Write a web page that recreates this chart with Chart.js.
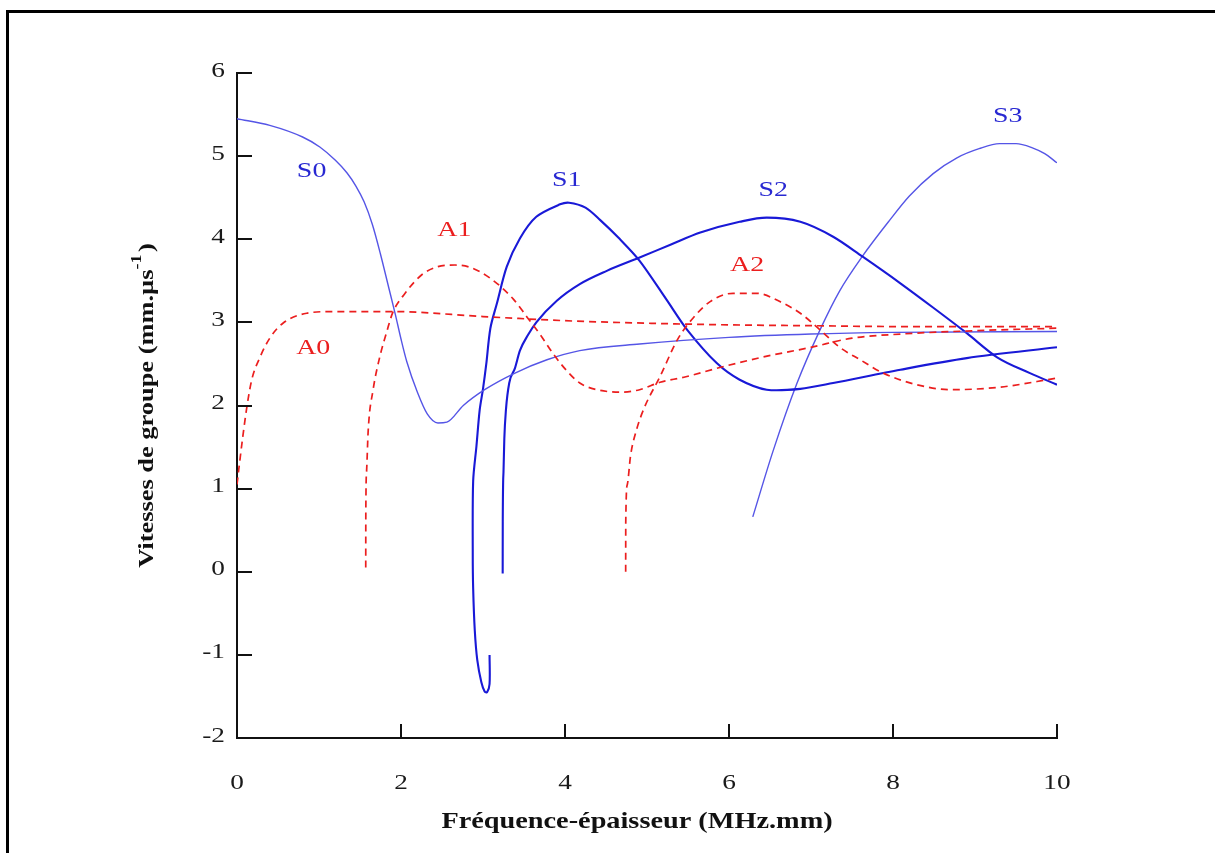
<!DOCTYPE html>
<html lang="fr">
<head>
<meta charset="UTF-8">
<title>Vitesses de groupe</title>
<script src="https://cdn.jsdelivr.net/npm/chart.js"></script>
<style>
  html, body { margin: 0; padding: 0; background: #fff; }
  #wrap { width: 1215px; height: 853px; position: relative; }
</style>
</head>
<body>
<div id="wrap"><canvas id="groupChart" width="1215" height="853"></canvas></div>
<script>
// fréquence-épaisseur (MHz.mm) -> vitesse de groupe (mm/µs)
const a0X = [0, 0.03, 0.07, 0.12, 0.18, 0.28, 0.4, 0.56, 0.85, 1.17, 1.9, 3, 4, 5, 6, 7, 8, 9, 10];
const a0Y = [1.05, 1.3, 1.62, 1.98, 2.31, 2.58, 2.81, 2.99, 3.11, 3.13, 3.13, 3.07, 3.02, 2.99, 2.97, 2.96, 2.95, 2.95, 2.95];

const a1X = [1.57, 1.571, 1.58, 1.6, 1.66, 1.74, 1.83, 1.9, 2.05, 2.25, 2.45, 2.66, 2.85, 3.09, 3.37, 3.54, 3.7, 3.85, 4.02, 4.18, 4.39, 4.67, 4.91, 5.16, 5.45, 5.9, 6.4, 7.0, 7.5, 8.1, 9.0, 10];
const a1Y = [0.05, 0.7, 1.2, 1.7, 2.19, 2.58, 2.9, 3.12, 3.35, 3.57, 3.67, 3.69, 3.66, 3.53, 3.28, 3.06, 2.85, 2.63, 2.42, 2.27, 2.19, 2.16, 2.19, 2.28, 2.34, 2.46, 2.58, 2.7, 2.81, 2.86, 2.9, 2.93];

const a2X = [4.74, 4.741, 4.76, 4.8, 4.87, 4.97, 5.16, 5.37, 5.56, 5.77, 6.05, 6.34, 6.62, 6.87, 7.11, 7.35, 7.6, 7.88, 8.29, 8.7, 9.3, 10];
const a2Y = [0.0, 0.6, 1.05, 1.4, 1.7, 1.98, 2.35, 2.79, 3.05, 3.25, 3.35, 3.35, 3.25, 3.11, 2.91, 2.7, 2.55, 2.39, 2.25, 2.19, 2.22, 2.33];

const s0X = [0, 0.4, 0.8, 1.01, 1.2, 1.34, 1.45, 1.55, 1.65, 1.75, 1.85, 1.93, 2.0, 2.07, 2.2, 2.32, 2.45, 2.56, 2.76, 3.02, 3.39, 3.78, 4.18, 4.91, 6, 7, 8, 10];
const s0Y = [5.45, 5.37, 5.23, 5.11, 4.95, 4.8, 4.64, 4.45, 4.18, 3.82, 3.42, 3.1, 2.8, 2.53, 2.16, 1.9, 1.79, 1.8, 2.0, 2.19, 2.39, 2.55, 2.66, 2.74, 2.82, 2.86, 2.88, 2.89];

const s1X = [3.08, 3.08, 3.05, 3.02, 2.98, 2.93, 2.9, 2.88, 2.875, 2.88, 2.92, 2.96, 3.0, 3.04, 3.09, 3.17, 3.29, 3.45, 3.65, 3.94, 4.05, 4.25, 4.43, 4.65, 4.91, 5.24, 5.49, 5.85, 6.13, 6.46, 6.87, 7.27, 8.09, 8.9, 10];
const s1Y = [-1.0, -1.35, -1.45, -1.44, -1.33, -1.06, -0.71, -0.2, 0.23, 1.09, 1.51, 1.95, 2.2, 2.5, 2.93, 3.23, 3.67, 4.01, 4.27, 4.42, 4.44, 4.38, 4.23, 4.02, 3.74, 3.27, 2.91, 2.51, 2.31, 2.19, 2.2, 2.27, 2.43, 2.57, 2.7];

const s2X = [3.24, 3.241, 3.25, 3.26, 3.28, 3.32, 3.39, 3.45, 3.55, 3.65, 3.9, 4.18, 4.51, 4.91, 5.3, 5.65, 6.13, 6.46, 6.87, 7.27, 7.63, 8.09, 8.5, 8.9, 9.27, 9.67, 10];
const s2Y = [-0.02, 0.6, 1.2, 1.6, 1.95, 2.27, 2.45, 2.66, 2.85, 3.0, 3.26, 3.46, 3.62, 3.78, 3.94, 4.08, 4.21, 4.26, 4.21, 4.03, 3.79, 3.47, 3.17, 2.87, 2.58, 2.39, 2.25];

const s3X = [6.29, 6.54, 6.83, 7.11, 7.35, 7.63, 7.96, 8.2, 8.49, 8.78, 9.05, 9.3, 9.5, 9.7, 9.85, 10];
const s3Y = [0.66, 1.46, 2.27, 2.91, 3.38, 3.8, 4.23, 4.52, 4.79, 4.98, 5.09, 5.15, 5.15, 5.1, 5.03, 4.92];

const xTicks = [0, 2, 4, 6, 8, 10];
const yTicks = [-2, -1, 0, 1, 2, 3, 4, 5, 6];

const curveNames = ['S0', 'A1', 'S1', 'S2', 'A2', 'S3', 'A0'];
const curveNameX = [0.91, 2.65, 4.02, 6.54, 6.22, 9.4, 0.93];
const curveNameY = [4.81, 4.11, 4.71, 4.59, 3.68, 5.48, 2.69];

const BLUE = 'rgb(25,25,215)';
const BLUE_THIN = 'rgb(85,85,230)';
const RED = 'rgb(235,30,30)';
const SERIF = '"Liberation Serif", "DejaVu Serif", serif';
const STRETCH = 1.33; // the figure's lettering is wide

function pts(xs, ys) {
  return xs.map((x, i) => ({ x: x, y: ys[i] }));
}

function redMode(xs, ys) {
  return { data: pts(xs, ys), borderColor: RED, borderWidth: 1.7, borderDash: [7, 5], cubicInterpolationMode: 'monotone' };
}
function blueMode(xs, ys, thin, smooth) {
  return {
    data: pts(xs, ys),
    borderColor: thin ? BLUE_THIN : BLUE,
    borderWidth: thin ? 1.4 : 2.1,
    cubicInterpolationMode: smooth ? 'monotone' : 'default'
  };
}

// wide text, centred on (x, y)
function wideText(ctx, txt, x, y, sx, align) {
  ctx.save();
  ctx.translate(x, y);
  ctx.scale(sx, 1);
  ctx.textAlign = align || 'center';
  ctx.fillText(txt, 0, 0);
  ctx.restore();
}

// frame, inward ticks, tick labels, axis titles and mode names
const decorations = {
  id: 'decorations',
  beforeDraw(chart) {
    const ctx = chart.ctx;
    ctx.save();
    ctx.fillStyle = '#fff';
    ctx.fillRect(0, 0, chart.width, chart.height);
    ctx.strokeStyle = '#000';
    ctx.lineWidth = 3;
    ctx.beginPath();
    ctx.moveTo(7.5, 853);
    ctx.lineTo(7.5, 11.5);
    ctx.lineTo(1215, 11.5);
    ctx.stroke();
    ctx.restore();
  },
  afterDatasetsDraw(chart) {
    const ctx = chart.ctx;
    const xs = chart.scales.x, ys = chart.scales.y;
    const area = chart.chartArea;
    ctx.save();
    ctx.strokeStyle = '#111';
    ctx.lineWidth = 2;
    ctx.beginPath();
    xTicks.forEach(v => {
      const px = Math.round(xs.getPixelForValue(v));
      ctx.moveTo(px, area.bottom);
      ctx.lineTo(px, area.bottom - 14);
    });
    yTicks.forEach(v => {
      const py = Math.round(ys.getPixelForValue(v));
      ctx.moveTo(area.left, py);
      ctx.lineTo(area.left + 15, py);
    });
    ctx.stroke();

    // tick labels
    ctx.fillStyle = '#1a1a1a';
    ctx.font = '21px ' + SERIF;
    ctx.textBaseline = 'middle';
    xTicks.forEach(v => wideText(ctx, String(v), xs.getPixelForValue(v), 783, 1.3));
    yTicks.forEach(v => wideText(ctx, String(v), area.left - 12, ys.getPixelForValue(v) - 2, 1.3, 'right'));

    // mode names
    ctx.font = '21px ' + SERIF;
    curveNames.forEach((n, i) => {
      ctx.fillStyle = n[0] === 'S' ? 'rgb(40,40,210)' : RED;
      wideText(ctx, n, xs.getPixelForValue(curveNameX[i]), ys.getPixelForValue(curveNameY[i]), STRETCH);
    });

    // x title
    ctx.fillStyle = '#111';
    ctx.font = 'bold 23px ' + SERIF;
    wideText(ctx, 'Fréquence-épaisseur (MHz.mm)', (area.left + area.right) / 2 - 10, 822, 1.23);

    // y title with superscript
    const main = 'Vitesses de groupe (mm.µs';
    const sup = '-1';
    const close = ')';
    ctx.translate(147, (area.top + area.bottom) / 2);
    ctx.rotate(-Math.PI / 2);
    ctx.scale(1.2, 1);
    ctx.font = 'bold 22px ' + SERIF;
    const wMain = ctx.measureText(main).width;
    const wClose = ctx.measureText(close).width;
    ctx.font = 'bold 15px ' + SERIF;
    const wSup = ctx.measureText(sup).width;
    const total = wMain + wSup + wClose + 2;
    let cx = -total / 2;
    ctx.textAlign = 'left';
    ctx.font = 'bold 22px ' + SERIF;
    ctx.fillText(main, cx, 0);
    cx += wMain;
    ctx.font = 'bold 15px ' + SERIF;
    ctx.fillText(sup, cx, -10);
    cx += wSup + 2;
    ctx.font = 'bold 22px ' + SERIF;
    ctx.fillText(close, cx, 0);
    ctx.restore();
  }
};

new Chart(document.getElementById('groupChart'), {
  type: 'scatter',
  data: {
    datasets: [
      redMode(a0X, a0Y),
      redMode(a1X, a1Y),
      redMode(a2X, a2Y),
      blueMode(s0X, s0Y, true, true),
      blueMode(s1X, s1Y, false, false),
      blueMode(s2X, s2Y, false, true),
      blueMode(s3X, s3Y, true, true)
    ]
  },
  options: {
    responsive: false,
    animation: false,
    showLine: true,
    layout: { padding: { left: 0, top: 73, right: 158, bottom: 0 } },
    elements: {
      point: { radius: 0, hoverRadius: 0 },
      line: { tension: 0.3, fill: false }
    },
    plugins: {
      legend: { display: false },
      tooltip: { enabled: false }
    },
    scales: {
      x: {
        type: 'linear',
        min: 0,
        max: 10,
        afterBuildTicks: s => { s.ticks = xTicks.map(v => ({ value: v })); },
        afterFit: s => { s.height = 115; },
        grid: { drawOnChartArea: false, drawTicks: false },
        border: { display: true, color: '#111', width: 2 },
        ticks: { display: false }
      },
      y: {
        type: 'linear',
        min: -2,
        max: 6,
        afterBuildTicks: s => { s.ticks = yTicks.map(v => ({ value: v })); },
        afterFit: s => { s.width = 237; },
        grid: { drawOnChartArea: false, drawTicks: false },
        border: { display: true, color: '#111', width: 2 },
        ticks: { display: false }
      }
    }
  },
  plugins: [decorations]
});
</script>
</body>
</html>
